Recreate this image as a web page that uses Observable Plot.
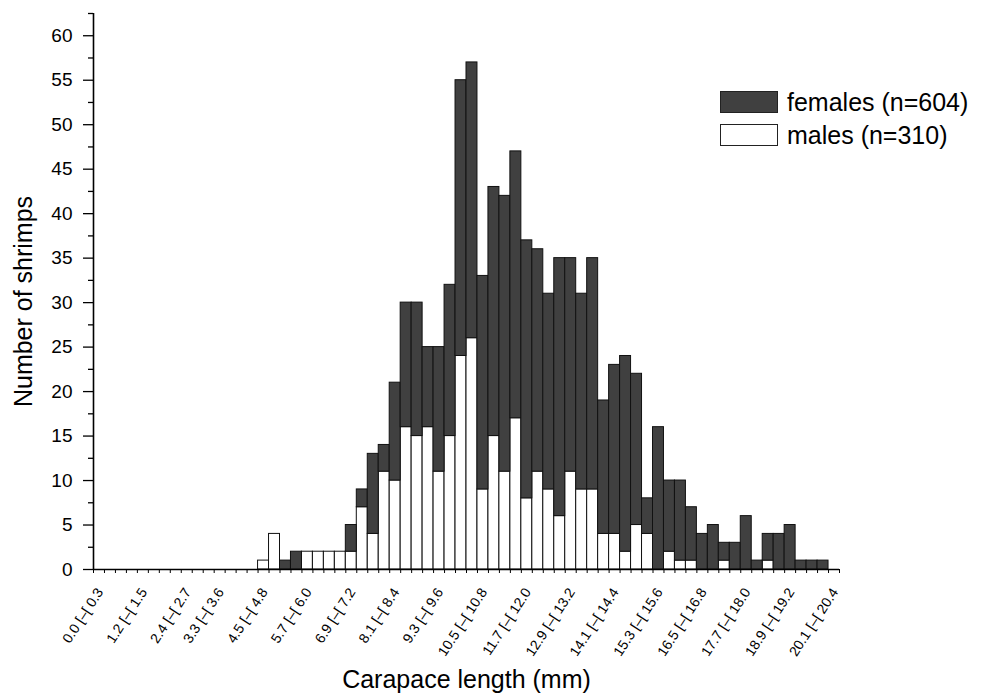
<!DOCTYPE html>
<html>
<head>
<meta charset="utf-8">
<script src="https://cdn.jsdelivr.net/npm/d3@7"></script>
<script src="https://cdn.jsdelivr.net/npm/@observablehq/plot@0.6"></script>
<style>
  body { margin: 0; background: #fff; font-family: "Liberation Sans", Arial, sans-serif; }
  #wrap { position: relative; width: 986px; height: 697px; }
  .legend { position: absolute; left: 720px; top: 91px; font-size: 25px; color: #000; line-height: 1; }
  .legend .row { display: flex; align-items: center; height: 22px; margin-bottom: 11px; }
  .legend .sw { width: 58px; height: 22px; border: 1px solid #222; box-sizing: border-box; margin-right: 9px; flex: none; }
</style>
</head>
<body>
<div id="wrap"></div>
<script>
// Bin lower bounds (mm), bin width 0.3 mm
const binStart = [0.0,0.3,0.6,0.9,1.2,1.5,1.8,2.1,2.4,2.7,3.0,3.3,3.6,3.9,4.2,4.5,4.8,5.1,5.4,5.7,
  6.0,6.3,6.6,6.9,7.2,7.5,7.8,8.1,8.4,8.7,9.0,9.3,9.6,9.9,10.2,10.5,10.8,11.1,11.4,11.7,
  12.0,12.3,12.6,12.9,13.2,13.5,13.8,14.1,14.4,14.7,15.0,15.3,15.6,15.9,16.2,16.5,16.8,17.1,17.4,17.7,
  18.0,18.3,18.6,18.9,19.2,19.5,19.8,20.1];
const binEnd = [0.3,0.6,0.9,1.2,1.5,1.8,2.1,2.4,2.7,3.0,3.3,3.6,3.9,4.2,4.5,4.8,5.1,5.4,5.7,6.0,
  6.3,6.6,6.9,7.2,7.5,7.8,8.1,8.4,8.7,9.0,9.3,9.6,9.9,10.2,10.5,10.8,11.1,11.4,11.7,12.0,
  12.3,12.6,12.9,13.2,13.5,13.8,14.1,14.4,14.7,15.0,15.3,15.6,15.9,16.2,16.5,16.8,17.1,17.4,17.7,18.0,
  18.3,18.6,18.9,19.2,19.5,19.8,20.1,20.4];

// Counts per bin
const males = [0,0,0,0,0,0,0,0,0,0,0,0,0,0,0,
  1,4,0,0,2,2,2,2,2,
  7,4,11,10,16,15,16,11,15,
  24,26,9,15,11,17,8,11,9,
  6,11,9,9,4,4,2,5,4,
  0,2,1,1,0,0,1,0,0,
  0,1,0,0,0,0,0,0];
const females = [0,0,0,0,0,0,0,0,0,0,0,0,0,0,0,0,0,
  1,2,0,0,0,0,3,2,9,
  3,11,14,15,9,14,17,31,31,
  24,28,31,30,29,25,22,29,24,
  22,26,15,19,22,17,4,16,8,
  9,6,4,5,2,3,6,1,3,
  4,5,1,1,1,0];

// Category tick labels (placed under these bins)
const tickBinStart = [0.0,1.2,2.4,3.3,4.5,5.7,6.9,8.1,9.3,10.5,11.7,12.9,14.1,15.3,16.5,17.7,18.9,20.1];
const tickLabels = ["0.0 [–[ 0.3","1.2 [–[ 1.5","2.4 [–[ 2.7","3.3 [–[ 3.6","4.5 [–[ 4.8","5.7 [–[ 6.0",
  "6.9 [–[ 7.2","8.1 [–[ 8.4","9.3 [–[ 9.6","10.5 [–[ 10.8","11.7 [–[ 12.0","12.9 [–[ 13.2",
  "14.1 [–[ 14.4","15.3 [–[ 15.6","16.5 [–[ 16.8","17.7 [–[ 18.0","18.9 [–[ 19.2","20.1 [–[ 20.4"];

const yMajor = [0,5,10,15,20,25,30,35,40,45,50,55,60];
const yMinor = [2.5,7.5,12.5,17.5,22.5,27.5,32.5,37.5,42.5,47.5,52.5,57.5,62.5];

const legendItems = [
  {label: "females (n=604)", fill: "#404040"},
  {label: "males (n=310)", fill: "#ffffff"}
];

const rows = binStart.map((s, i) => ({x1: s, x2: binEnd[i], male: males[i], female: females[i]}));
const maleRows = rows.filter(d => d.male > 0);
const femRows = rows.filter(d => d.female > 0);
const edges = [0.0].concat(binEnd);
const tickRows = tickBinStart.map((s, i) => ({x: s + 0.15, label: tickLabels[i]}));

const chart = Plot.plot({
  width: 986,
  height: 697,
  marginLeft: 93,
  marginRight: 147,
  marginTop: 13,
  marginBottom: 128,
  x: {domain: [0, 20.4], axis: null},
  y: {domain: [0, 62.5], axis: null},
  style: {fontFamily: '"Liberation Sans", Arial, sans-serif', color: "#000", background: "#fff"},
  marks: [
    Plot.rect(maleRows, {x1: "x1", x2: "x2", y1: 0, y2: "male", fill: "#ffffff", stroke: "#111", strokeWidth: 1}),
    Plot.rect(femRows, {x1: "x1", x2: "x2", y1: "male", y2: d => d.male + d.female, fill: "#404040", stroke: "#111", strokeWidth: 1}),
    Plot.axisX({ticks: edges, tickSize: 4, tickFormat: () => "", label: null, strokeWidth: 1}),
    Plot.axisY({ticks: yMinor, tickSize: 5, tickFormat: () => "", label: null, strokeWidth: 1.3}),
    Plot.axisY({ticks: yMajor, tickSize: 10, tickFormat: () => "", label: null, strokeWidth: 1.3}),
    Plot.text(yMajor, {x: 0, y: d => d, text: d => String(d), textAnchor: "end", lineAnchor: "middle", dx: -21, fontSize: 19}),
    Plot.ruleX([0], {y1: 0, y2: 62.5, strokeWidth: 1.6}),
    Plot.ruleY([0], {x1: 0, x2: 20.4, strokeWidth: 1.6}),
    Plot.text(tickRows, {x: "x", y: 0, text: "label", rotate: -57, textAnchor: "end", lineAnchor: "middle", dx: 1, dy: 20, fontSize: 14}),
    Plot.text(["Number of shrimps"], {frameAnchor: "left", textAnchor: "middle", rotate: -90, dx: -70, dy: 10, fontSize: 25, lineAnchor: "middle"}),
    Plot.text(["Carapace length (mm)"], {frameAnchor: "bottom", textAnchor: "middle", dy: 110, fontSize: 25, lineAnchor: "middle"})
  ]
});

const wrap = document.getElementById("wrap");
wrap.appendChild(chart);

const legend = document.createElement("div");
legend.className = "legend";
for (const item of legendItems) {
  const row = document.createElement("div");
  row.className = "row";
  const sw = document.createElement("div");
  sw.className = "sw";
  sw.style.background = item.fill;
  const tx = document.createElement("span");
  tx.textContent = item.label;
  row.appendChild(sw);
  row.appendChild(tx);
  legend.appendChild(row);
}
wrap.appendChild(legend);
</script>
</body>
</html>
